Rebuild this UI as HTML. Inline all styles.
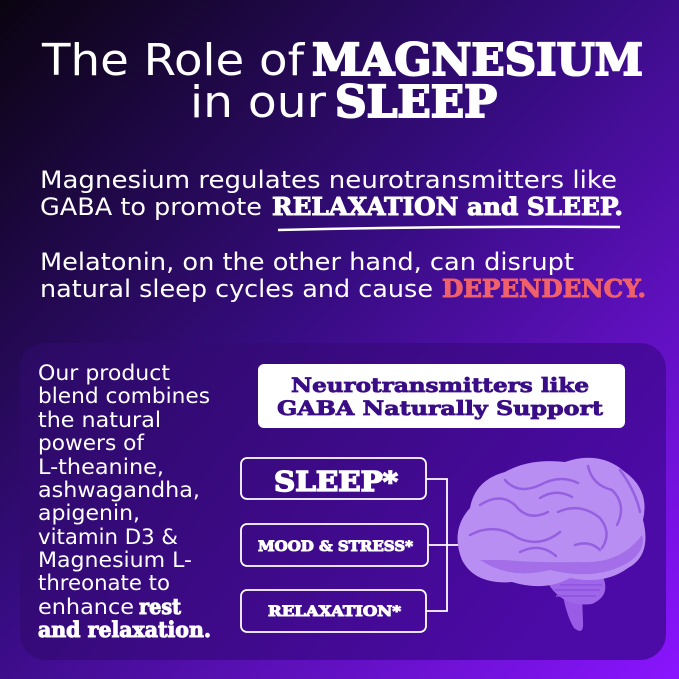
<!DOCTYPE html>
<html><head><meta charset="utf-8"><style>
html,body{margin:0;padding:0;background:#1a0a30}
svg{display:block}
text{font-family:"DejaVu Serif","Liberation Serif",serif;fill:#fff}
.r{font-family:"DejaVu Sans","Liberation Sans",sans-serif;font-weight:normal}
.b{font-family:"DejaVu Serif","Liberation Serif",serif;font-weight:bold;stroke:#fff;stroke-width:1}
.bp{stroke:#3a0c86 !important;stroke-width:0.8}
.bd{stroke:#f0606a !important}
</style></head><body>
<svg width="679" height="679" viewBox="0 0 679 679" xmlns="http://www.w3.org/2000/svg">
<defs>
<linearGradient id="bg" x1="0" y1="0" x2="1" y2="1">
<stop offset="0" stop-color="#0a0410"/>
<stop offset="0.45" stop-color="#360c80"/>
<stop offset="1" stop-color="#8a14ff"/>
</linearGradient>
<linearGradient id="pn" x1="0" y1="0" x2="1" y2="0.4">
<stop offset="0" stop-color="#2a0a62"/>
<stop offset="1" stop-color="#4c0aa6"/>
</linearGradient>
</defs>
<rect width="679" height="679" fill="url(#bg)"/>
<text x="42" y="75" font-size="44" class="r" textLength="262" lengthAdjust="spacingAndGlyphs">The Role of</text>
<text x="312" y="75" font-size="44" class="b" style="stroke-width:2" textLength="331" lengthAdjust="spacingAndGlyphs">MAGNESIUM</text>
<text x="190" y="117" font-size="44" class="r" textLength="136" lengthAdjust="spacingAndGlyphs">in our</text>
<text x="335" y="117" font-size="44" class="b" style="stroke-width:2" textLength="162" lengthAdjust="spacingAndGlyphs">SLEEP</text>
<text x="40" y="188" font-size="24" class="r" textLength="577" lengthAdjust="spacingAndGlyphs">Magnesium regulates neurotransmitters like</text>
<text x="40" y="215" font-size="24" class="r" textLength="222" lengthAdjust="spacingAndGlyphs">GABA to promote</text>
<text x="272" y="215" font-size="24" class="b" textLength="351" lengthAdjust="spacingAndGlyphs">RELAXATION and SLEEP.</text>
<path d="M278 230 Q450 226 620 227" stroke="#fff" stroke-width="2.5" fill="none"/>
<text x="40" y="270" font-size="24" class="r" textLength="534" lengthAdjust="spacingAndGlyphs">Melatonin, on the other hand, can disrupt</text>
<text x="40" y="297" font-size="24" class="r" textLength="393" lengthAdjust="spacingAndGlyphs">natural sleep cycles and cause</text>
<text x="442" y="297" font-size="24" class="b bd" style="fill:#f0606a" textLength="204" lengthAdjust="spacingAndGlyphs">DEPENDENCY.</text>
<rect x="20" y="343" width="646" height="317" rx="26" fill="url(#pn)"/>
<g font-size="21">
<text x="38" y="380" class="r" textLength="132" lengthAdjust="spacingAndGlyphs">Our product</text>
<text x="38" y="403" class="r" textLength="172" lengthAdjust="spacingAndGlyphs">blend combines</text>
<text x="38" y="427" class="r" textLength="123" lengthAdjust="spacingAndGlyphs">the natural</text>
<text x="38" y="450" class="r" textLength="106" lengthAdjust="spacingAndGlyphs">powers of</text>
<text x="38" y="474" class="r" textLength="126" lengthAdjust="spacingAndGlyphs">L-theanine,</text>
<text x="38" y="497" class="r" textLength="162" lengthAdjust="spacingAndGlyphs">ashwagandha,</text>
<text x="38" y="520" class="r" textLength="102" lengthAdjust="spacingAndGlyphs">apigenin,</text>
<text x="38" y="544" class="r" textLength="140" lengthAdjust="spacingAndGlyphs">vitamin D3 &amp;</text>
<text x="38" y="567" class="r" textLength="154" lengthAdjust="spacingAndGlyphs">Magnesium L-</text>
<text x="38" y="590" class="r" textLength="132" lengthAdjust="spacingAndGlyphs">threonate to</text>
<text x="38" y="614" class="r" textLength="96" lengthAdjust="spacingAndGlyphs">enhance</text>
<text x="139" y="614" class="b" textLength="42" lengthAdjust="spacingAndGlyphs">rest</text>
<text x="38" y="637" class="b" textLength="173" lengthAdjust="spacingAndGlyphs">and relaxation.</text>
</g>
<rect x="258" y="364" width="367" height="64" rx="6" fill="#fff"/>
<text x="291" y="392" font-size="20" class="b bp" style="fill:#3a0c86" textLength="298" lengthAdjust="spacingAndGlyphs">Neurotransmitters like</text>
<text x="277" y="415" font-size="20" class="b bp" style="fill:#3a0c86" textLength="326" lengthAdjust="spacingAndGlyphs">GABA Naturally Support</text>
<g fill="none" stroke="#fff" stroke-width="1.8">
<rect x="241" y="458" width="185" height="41" rx="6"/>
<rect x="241" y="524" width="187" height="42" rx="6"/>
<rect x="241" y="590" width="185" height="42" rx="6"/>
<path d="M426 479 H447 V611 H426 M428 545 H458"/>
</g>
<text x="274" y="491" font-size="27" class="b" style="stroke-width:1.5" textLength="124" lengthAdjust="spacingAndGlyphs">SLEEP*</text>
<text x="258" y="551" font-size="14" class="b" textLength="155" lengthAdjust="spacingAndGlyphs">MOOD &amp; STRESS*</text>
<text x="268" y="616" font-size="14" class="b" textLength="133" lengthAdjust="spacingAndGlyphs">RELAXATION*</text>
<g>
<path d="M562 590 Q566 615 574 628 Q584 636 583 622 L582 595 Z" fill="#9a5ce6"/>
<path d="M545 578 Q560 608 592 604 Q612 595 602 575 Z" fill="#a066ea"/>
<g stroke="#8e52dc" stroke-width="1.5"><path d="M555 590 H600 M556 596 H596 M560 585 H602"/></g>
<path d="M462 560 Q450 530 470 508 Q475 480 505 472 Q530 458 565 462 Q600 450 625 472 Q650 490 643 520 Q652 555 628 568 Q605 585 570 578 Q545 592 512 582 Q475 585 462 560 Z" fill="#b98ef2"/>
<path d="M480 560 Q510 580 550 570 Q600 582 632 560 Q646 548 642 535 Q620 565 578 562 Q535 563 505 560 Z" fill="#a46ee8"/>
<g fill="none" stroke="#9560e0" stroke-width="2.5" stroke-linecap="round">
<path d="M480 505 Q500 492 515 505 Q528 522 548 512"/>
<path d="M505 480 Q518 495 540 485 Q560 474 578 483"/>
<path d="M588 466 Q592 485 612 490 Q627 505 617 525"/>
<path d="M470 535 Q495 522 518 538 Q540 548 560 532"/>
<path d="M558 512 Q580 502 600 518 Q612 533 602 548"/>
<path d="M520 552 Q540 542 556 556"/>
<path d="M620 470 Q636 492 640 512"/>
<path d="M540 498 Q556 488 572 497"/>
<path d="M575 545 Q590 540 600 550"/>
</g>
</g>
</svg>
</body></html>
